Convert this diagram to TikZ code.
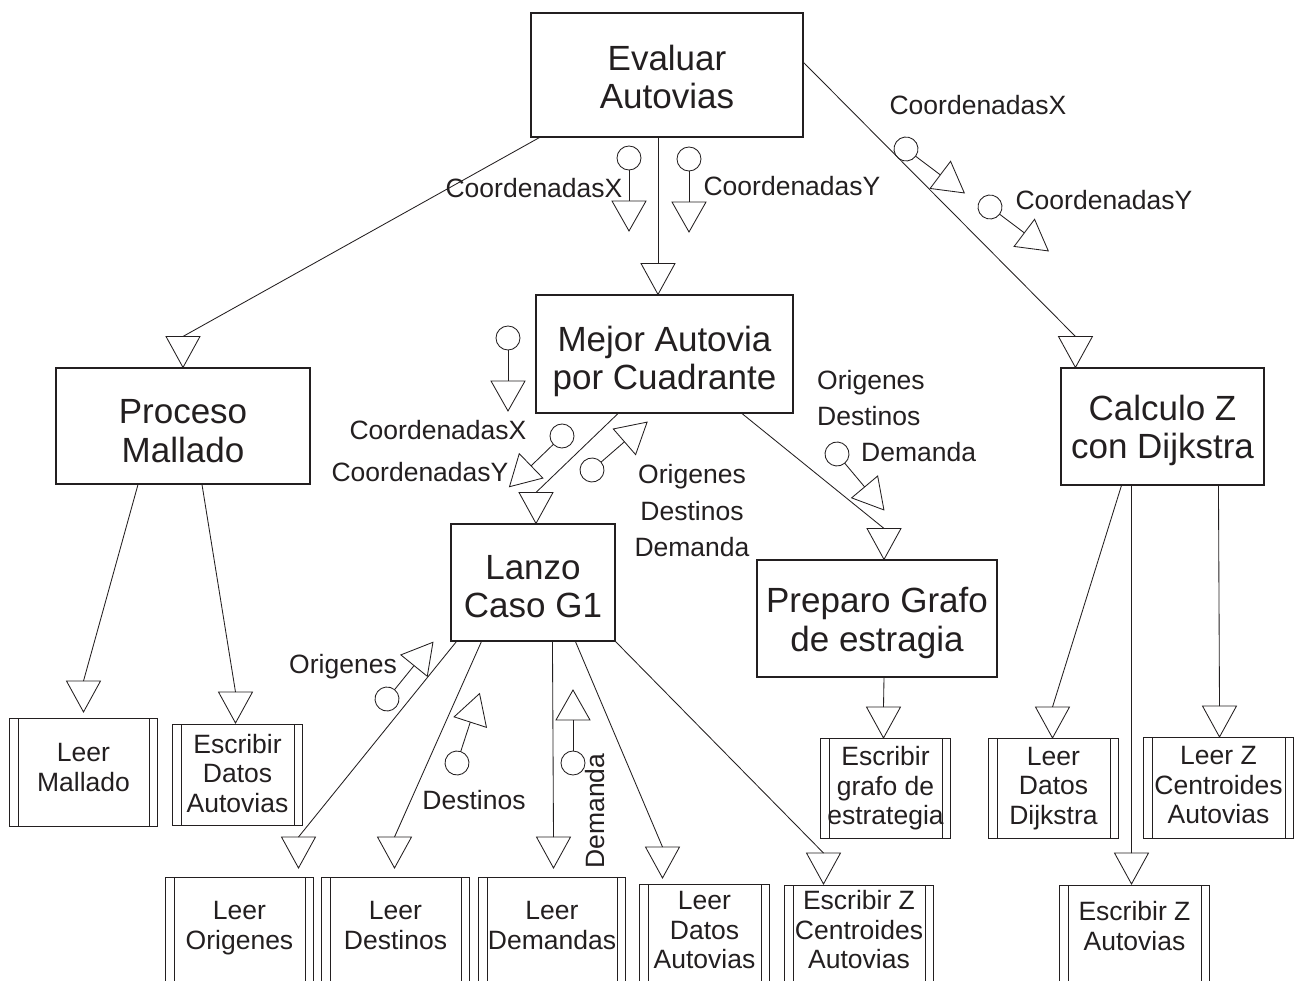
\documentclass[tikz,border=0pt]{standalone}
\usepackage{fontspec}
\setmainfont{Liberation Sans}
\usetikzlibrary{calc}
\definecolor{ink}{HTML}{231F20}
\newcommand\bigfont{\fontsize{35}{38.5}\selectfont}
\newcommand\smallfont{\fontsize{26.5}{29.5}\selectfont}
% invisible struts that move a multi-line label down (\pushdown) or up (\liftup)
\newcommand\pushdown[1]{\rule{0pt}{#1}}
\newcommand\liftup[1]{\rule[-#1]{0pt}{0pt}}

% connector: straight line from a source point to an open down-pointing triangle
% #1 source coordinate, #2 shift of the tip, #3 anchor of the target node
\newcommand\linkto[3]{%
  \draw[conn] #1 -- ([#2,yshift=31pt]#3);
  \draw[tri] ([#2]#3) -- ++(-17,-31) -- ++(34,0) -- cycle;}

% data couple: circle, stem and open triangle pointing along #3 degrees
\newcommand\couple[3]{%
  \begin{scope}[shift={(#1,#2)}, rotate=#3]
    \draw[cpl] (0,0) circle[radius=12pt];
    \draw[cpl] (12,0) -- (43,0);
    \draw[tri] (43,17) -- (73,0) -- (43,-17) -- cycle;
  \end{scope}}

\tikzset{
  proc/.style={draw=ink, line width=1.1pt, rectangle, align=center,
    font=\bigfont, text=ink, inner sep=0pt},
  leaf/.style={draw=ink, line width=1pt, rectangle, align=center,
    font=\smallfont, text=ink, inner xsep=0pt, anchor=north west,
    path picture={
      \draw[ink, line width=0.8pt]
        ([xshift=8.5pt]path picture bounding box.north west) --
        ([xshift=8.5pt]path picture bounding box.south west)
        ([xshift=-8.5pt]path picture bounding box.north east) --
        ([xshift=-8.5pt]path picture bounding box.south east);}},
  midleaf/.style={leaf, inner ysep=0pt},
  lowleaf/.style={leaf, inner ysep=#1, text depth=220pt},
  tag/.style={font=\smallfont, text=ink, inner sep=0pt},
  conn/.style={draw=ink, line width=0.85pt},
  tri/.style={draw=ink, line width=0.85pt, line join=miter},
  cpl/.style={draw=ink, line width=0.85pt},
}

\begin{document}
\begin{tikzpicture}[x=1pt, y=-1pt]
\useasboundingbox (0,0) rectangle (1304,981);
\clip (0,0) rectangle (1304,981);

% processes
\node[proc, minimum width=272pt, minimum height=124pt] (E) at (667,75) {\pushdown{29pt}Evaluar\\Autovias};
\node[proc, minimum width=257pt, minimum height=118pt] (M) at (664.5,354) {\pushdown{40pt}Mejor Autovia\\por Cuadrante};
\node[proc, minimum width=254pt, minimum height=116pt] (P) at (183,426) {\pushdown{34pt}Proceso\\Mallado};
\node[proc, minimum width=203pt, minimum height=117pt] (C) at (1162.5,426.5) {\pushdown{33pt}Calculo Z\\con Dijkstra};
\node[proc, minimum width=164pt, minimum height=117pt] (L) at (533,582.5) {\pushdown{32pt}Lanzo\\Caso G1};
\node[proc, minimum width=240pt, minimum height=117pt] (G) at (877,618.5) {\pushdown{34pt}Preparo Grafo\\de estragia};

% library modules, middle row
\node[midleaf, minimum width=148pt, minimum height=108pt] (LM) at (9,718) {Leer\\Mallado\liftup{10pt}};
\node[midleaf, minimum width=130pt, minimum height=101pt] (EDA) at (172,724) {Escribir\\Datos\\Autovias\liftup{4pt}};
\node[midleaf, minimum width=130pt, minimum height=100pt] (EG) at (820,738) {Escribir\\grafo de\\estrategia\liftup{3pt}};
\node[midleaf, minimum width=130pt, minimum height=100pt] (LDD) at (988,738) {Leer\\Datos\\Dijkstra\liftup{3pt}};
\node[midleaf, minimum width=150pt, minimum height=101pt] (LZC) at (1143,737) {Leer Z\\Centroides\\Autovias\liftup{6pt}};

% library modules, bottom row
\node[lowleaf=24pt, minimum width=148pt] (LO) at (165,877) {Leer\\Origenes};
\node[lowleaf=24pt, minimum width=148pt] (LDe) at (321,877) {Leer\\Destinos};
\node[lowleaf=24pt, minimum width=147pt] (LDm) at (478,877) {Leer\\Demandas};
\node[lowleaf=7pt, minimum width=130pt] (LDA) at (639,884) {Leer\\Datos\\Autovias};
\node[lowleaf=5pt, minimum width=149pt] (EZC) at (784,885) {Escribir Z\\Centroides\\Autovias};
\node[lowleaf=16pt, minimum width=150pt] (EZA) at (1059,885) {Escribir Z\\Autovias};

% calls
\linkto{([xshift=9pt]E.south west)}{}{P.north}
\linkto{([xshift=-9pt]E.south)}{xshift=-6.5pt}{M.north}
\linkto{([yshift=-50pt]E.north east)}{xshift=15pt}{C.north west}
\linkto{([xshift=-46.5pt]M.south)}{xshift=3pt}{L.north}
\linkto{([xshift=77.5pt]M.south)}{xshift=7pt}{G.north}
\linkto{([xshift=-45pt]P.south)}{yshift=6pt}{LM.north}
\linkto{([xshift=19pt]P.south)}{xshift=-2pt,yshift=1pt}{EDA.north}
\linkto{([xshift=6pt]L.south west)}{xshift=59pt,yshift=9pt}{LO.north}
\linkto{([xshift=31pt]L.south west)}{xshift=-1pt,yshift=9pt}{LDe.north}
\linkto{([xshift=102pt]L.south west)}{xshift=1.5pt,yshift=9pt}{LDm.north}
\linkto{([xshift=125pt]L.south west)}{xshift=-42pt,yshift=6pt}{LDA.north}
\linkto{(L.south east)}{xshift=-35.5pt,yshift=1pt}{EZC.north}
\linkto{([xshift=7pt]G.south)}{xshift=-2pt}{EG.north}
\linkto{([xshift=61pt]C.south west)}{xshift=-1pt}{LDD.north}
\linkto{([xshift=71pt]C.south west)}{xshift=-3pt,yshift=1pt}{EZA.north}
\linkto{([xshift=158pt]C.south west)}{xshift=1pt}{LZC.north}

% data couples
\couple{629}{158}{-90}
\couple{689}{159}{-90}
\couple{906}{149}{-37}
\couple{990}{207}{-37}
\couple{508}{338}{-90}
\couple{562}{436}{-136}
\couple{592}{470}{41}
\couple{837}{454}{-50}
\couple{387}{699}{51}
\couple{457}{763}{72}
\couple{573}{763}{90}

% couple labels
\node[tag] (cx1) at (534,188) {CoordenadasX};
\node[tag] (cy1) at (792,186) {CoordenadasY};
\node[tag] (cx2) at (978,105) {CoordenadasX};
\node[tag] (cy2) at (1104,200) {CoordenadasY};
\node[tag] (cx3) at (438,430) {CoordenadasX};
\node[tag] (cy3) at (420,472) {CoordenadasY};
\node[tag, align=center, font=\fontsize{26.5}{36.5}\selectfont] (odd1) at (692,511) {Origenes\\Destinos\\Demanda};
\node[tag, align=left, anchor=west, font=\fontsize{26.5}{36}\selectfont] (odd2) at (817,416) {Origenes\\Destinos\\\hspace*{44pt}Demanda};
\node[tag] (org) at (343,667) {Origenes};
\node[tag] (des) at (474,800) {Destinos};
\node[tag, rotate=90] (dem) at (595,811) {Demanda};
\end{tikzpicture}
\end{document}
